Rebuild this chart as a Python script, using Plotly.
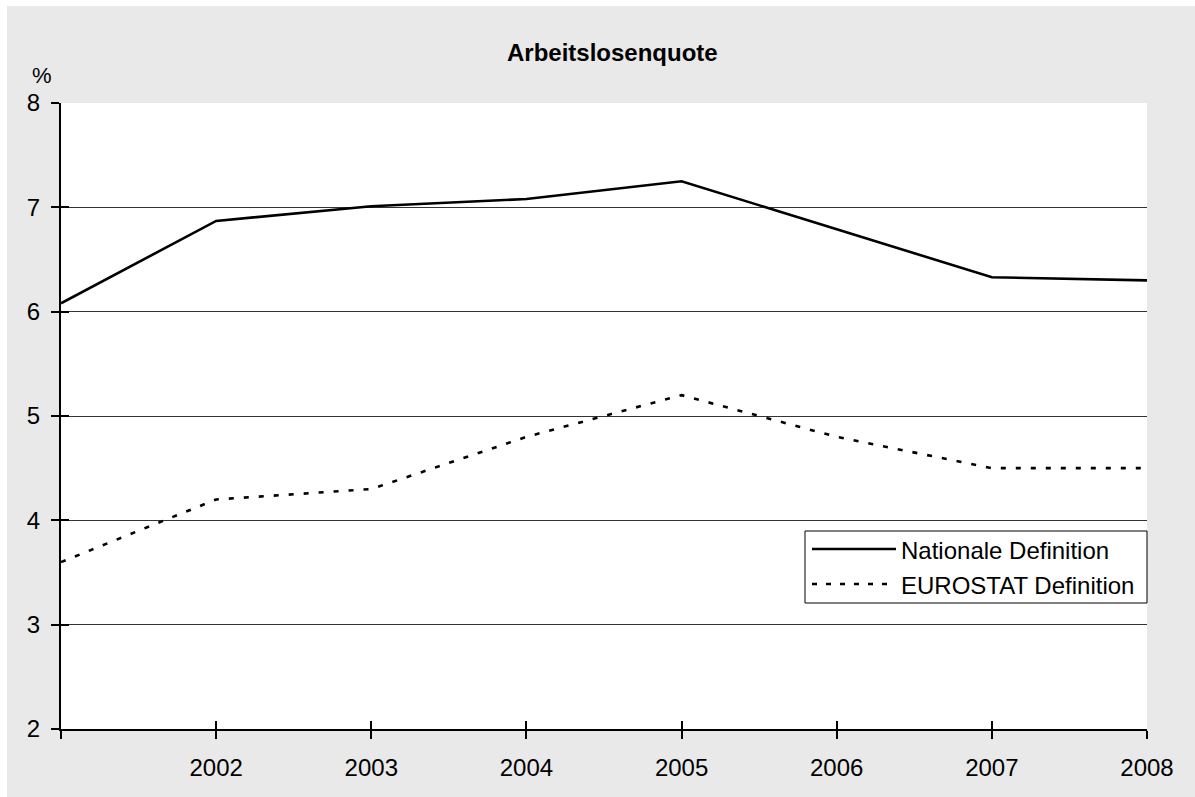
import plotly.graph_objects as go

# Arbeitslosenquote in %, 2001-2008
years = [2001, 2002, 2003, 2004, 2005, 2006, 2007, 2008]
nationale = [6.08, 6.87, 7.01, 7.08, 7.25, 6.79, 6.33, 6.30]
eurostat = [3.6, 4.2, 4.3, 4.8, 5.2, 4.8, 4.5, 4.5]

year_labels = ["", "2002", "2003", "2004", "2005", "2006", "2007", "2008"]
y_ticks = [2, 3, 4, 5, 6, 7, 8]
series_names = ["Nationale Definition", "EUROSTAT Definition"]
title_text = "Arbeitslosenquote"
unit_label = "%"

W, H = 1195, 797
L, R, T, B = 61, 48, 103, 68
PW, PH = W - L - R, H - T - B
FONT = "Liberation Sans, Arial, sans-serif"
FS = 24
PANEL = "#e9e9e9"


def px(x):
    return (x - L) / PW


def py(y):
    return (H - B - y) / PH


fig = go.Figure()
fig.add_trace(go.Scatter(x=years, y=nationale, mode="lines", name=series_names[0],
                         line=dict(color="black", width=2.6), hoverinfo="x+y"))
fig.add_trace(go.Scatter(x=years, y=eurostat, mode="lines", name=series_names[1],
                         line=dict(color="black", width=2.6, dash="5px,10px"), hoverinfo="x+y"))
# invisible copy on the companion axes so their inner tick marks are rendered
fig.add_trace(go.Scatter(x=years, y=eurostat, mode="lines", xaxis="x2", yaxis="y2",
                         line=dict(color="rgba(0,0,0,0)", width=0), hoverinfo="skip",
                         showlegend=False))

axis_common = dict(ticks="outside", ticklen=8, tickwidth=2, tickcolor="black",
                   showline=True, linecolor="black", linewidth=2,
                   tickfont=dict(family=FONT, size=FS, color="black"))

fig.update_layout(
    width=W, height=H,
    margin=dict(l=L, r=R, t=T, b=B),
    paper_bgcolor=PANEL, plot_bgcolor="white",
    showlegend=False,
    font=dict(family=FONT, size=FS, color="black"),
    xaxis=dict(range=[years[0], years[-1]], tickvals=years, ticktext=year_labels,
               showgrid=False, zeroline=False, ticklabelstandoff=8, **axis_common),
    yaxis=dict(range=[y_ticks[0], y_ticks[-1]], tickvals=y_ticks,
               showgrid=True, gridcolor="#333333", gridwidth=1, zeroline=False,
               ticklabelstandoff=6, **axis_common),
    # companion axes carrying the inner half of the crossing tick marks
    xaxis2=dict(overlaying="x", anchor="y", side="bottom", range=[years[0], years[-1]],
                tickvals=years, ticks="inside", ticklen=8, tickwidth=2, tickcolor="black",
                showticklabels=False, showgrid=False, zeroline=False, showline=False),
    yaxis2=dict(overlaying="y", anchor="x", side="left", range=[y_ticks[0], y_ticks[-1]],
                tickvals=y_ticks, ticks="inside", ticklen=8, tickwidth=2, tickcolor="black",
                showticklabels=False, showgrid=False, zeroline=False, showline=False),
)

shapes = [
    # white frame strips around the grey panel
    dict(type="rect", xref="paper", yref="paper", x0=px(0), x1=px(7), y0=py(H), y1=py(0),
         fillcolor="white", line=dict(width=0), layer="below"),
    dict(type="rect", xref="paper", yref="paper", x0=px(0), x1=px(W), y0=py(6), y1=py(0),
         fillcolor="white", line=dict(width=0), layer="below"),
    # legend box
    dict(type="rect", xref="paper", yref="paper", x0=px(805), x1=px(1147), y0=py(603), y1=py(531),
         fillcolor="white", line=dict(color="black", width=1), layer="above"),
    dict(type="line", xref="paper", yref="paper", x0=px(812), x1=px(896), y0=py(549), y1=py(549),
         line=dict(color="black", width=2.6), layer="above"),
    dict(type="line", xref="paper", yref="paper", x0=px(812), x1=px(896), y0=py(584), y1=py(584),
         line=dict(color="black", width=2.6, dash="5px,9px"), layer="above"),
]

annotations = [
    dict(text=f"<b>{title_text}</b>", xref="paper", yref="paper", x=px(612), y=py(52),
         xanchor="center", yanchor="middle", showarrow=False,
         font=dict(family=FONT, size=FS, color="black")),
    dict(text=unit_label, xref="paper", yref="paper", x=px(42), y=py(75),
         xanchor="center", yanchor="middle", showarrow=False,
         font=dict(family=FONT, size=FS - 2, color="black")),
    dict(text=series_names[0], xref="paper", yref="paper", x=px(899), y=py(550),
         xanchor="left", yanchor="middle", showarrow=False,
         font=dict(family=FONT, size=FS, color="black")),
    dict(text=series_names[1], xref="paper", yref="paper", x=px(899), y=py(585),
         xanchor="left", yanchor="middle", showarrow=False,
         font=dict(family=FONT, size=FS, color="black")),
]

fig.update_layout(shapes=shapes, annotations=annotations)
fig.write_html("out.html")
